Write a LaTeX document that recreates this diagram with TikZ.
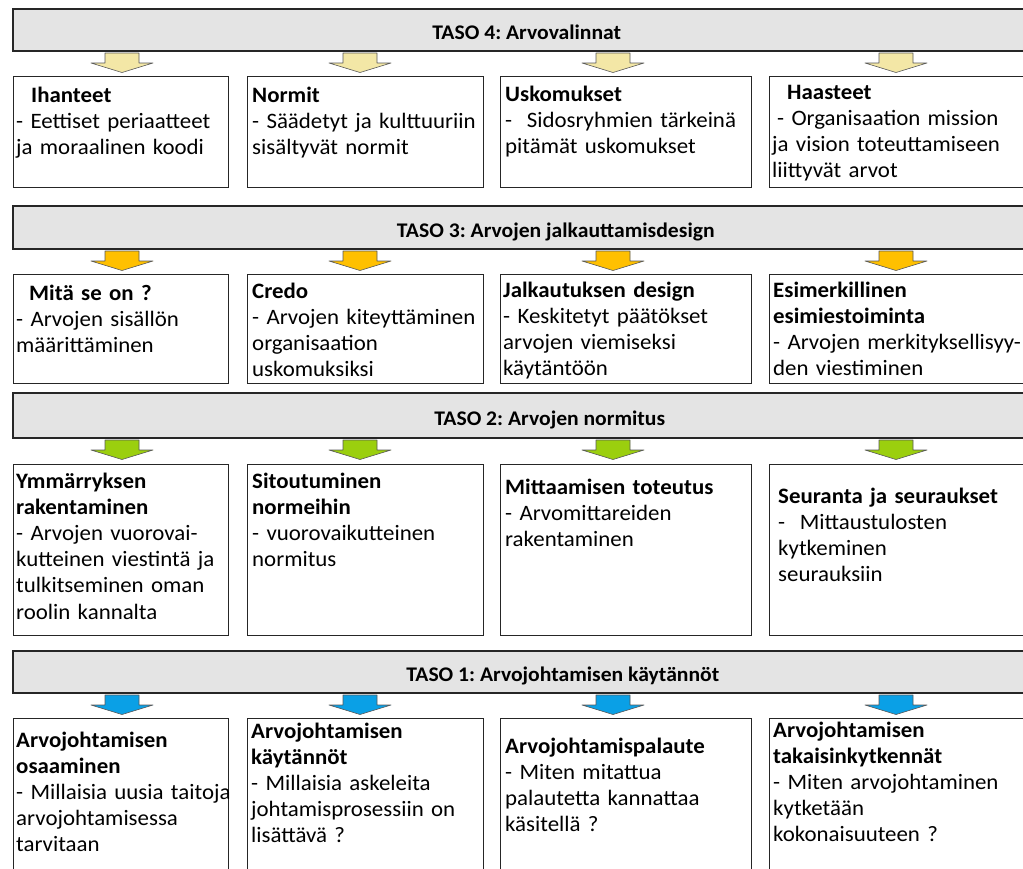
\documentclass[tikz,border=0pt]{standalone}
\usepackage{fontspec}
\setmainfont{Carlito}[FakeStretch=1.04]
\usetikzlibrary{positioning}
\definecolor{barfill}{HTML}{E4E4E4}
\definecolor{edge}{HTML}{262626}
\definecolor{pale}{HTML}{F3E7A6}
\definecolor{gold}{HTML}{FFC000}
\definecolor{lime}{HTML}{9BCF0E}
\definecolor{sky}{HTML}{0AA0E6}
\frenchspacing

\begin{document}
\begin{tikzpicture}[
  x=1pt, y=-1pt,
  level/.style={draw=edge, fill=barfill, line width=1.6pt, anchor=north west,
    inner sep=0pt, text height=20pt, text depth=0pt,
    font=\fontsize{20.8}{24}\selectfont\bfseries},
  cell/.style={draw=edge, fill=white, line width=1.3pt, anchor=north west,
    inner sep=0pt},
  txt/.style={inner sep=0pt, text width=320pt, align=left,
    font=\fontsize{22}{26.2}\selectfont},
  blockarr/.pic={\path[draw=black!65, line width=0.6pt, fill=#1, line join=round]
    (-17,-10) -- (17,-10) -- (17,0) -- (31,0) -- (0,9.5) -- (-31,0) -- (-17,0) -- cycle;},
]
  \useasboundingbox (0,0) rectangle (1023,868);
  \clip (0,0) rectangle (1023,868);

  % level bars
  \node[level, minimum width=1028, minimum height=42] (t4) at (12,8)   {TASO 4: Arvovalinnat};
  \node[level, minimum width=1086, minimum height=43] (t3) at (12,205) {TASO 3: Arvojen jalkauttamisdesign};
  \node[level, minimum width=1074, minimum height=45] (t2) at (12,392) {TASO 2: Arvojen normitus};
  \node[level, minimum width=1100, minimum height=42] (t1) at (12,650) {TASO 1: Arvojohtamisen käytännöt};

  % block arrows
  \foreach \row/\y/\c in {4/63/pale, 3/261/gold, 2/450/lime, 1/705/sky}
    \foreach \x [count=\i] in {122,360,613,896}
      \pic (a\row\i) at (\x,\y) {blockarr=\c};

  % taso 4
  \node[cell, minimum width=215, minimum height=111] (b41) at (13,76)  {};
  \node[cell, minimum width=236, minimum height=111] (b42) at (247,76) {};
  \node[cell, minimum width=251, minimum height=111] (b43) at (500,76) {};
  \node[cell, minimum width=270, minimum height=111] (b44) at (769,76) {};
  \node[txt, below right=26pt and 3pt of b41.north west, anchor=base west] (l41)
    {\hspace*{15pt}\textbf{Ihanteet}\\- Eettiset periaatteet\\ja moraalinen koodi};
  \node[txt, below right=26pt and 5pt of b42.north west, anchor=base west] (l42)
    {\textbf{Normit}\\- Säädetyt ja kulttuuriin\\sisältyvät normit};
  \node[txt, below right=25pt and 5pt of b43.north west, anchor=base west] (l43)
    {\textbf{Uskomukset}\\-\ \ Sidosryhmien tärkeinä\\pitämät uskomukset};
  \node[txt, below right=23pt and 3pt of b44.north west, anchor=base west] (l44)
    {\hspace*{15pt}\textbf{Haasteet}\\\hspace*{5pt}- Organisaation mission\\ja vision toteuttamiseen\\liittyvät arvot};

  % taso 3
  \node[cell, minimum width=215, minimum height=109] (b31) at (13,274)  {};
  \node[cell, minimum width=236, minimum height=109] (b32) at (247,274) {};
  \node[cell, minimum width=251, minimum height=109] (b33) at (500,274) {};
  \node[cell, minimum width=270, minimum height=109] (b34) at (769,274) {};
  \node[txt, below right=26pt and 3pt of b31.north west, anchor=base west] (l31)
    {\hspace*{13pt}\textbf{Mitä se on ?}\\- Arvojen sisällön\\määrittäminen};
  \node[txt, below right=24pt and 5pt of b32.north west, anchor=base west] (l32)
    {\textbf{Credo}\\- Arvojen kiteyttäminen\\organisaation\\uskomuksiksi};
  \node[txt, below right=23pt and 3pt of b33.north west, anchor=base west] (l33)
    {\textbf{Jalkautuksen design}\\- Keskitetyt päätökset\\arvojen viemiseksi\\käytäntöön};
  \node[txt, below right=23pt and 4pt of b34.north west, anchor=base west] (l34)
    {\textbf{Esimerkillinen}\\\textbf{esimiestoiminta}\\- Arvojen merkityksellisyy-\\den viestiminen};

  % taso 2
  \node[cell, minimum width=215, minimum height=171] (b21) at (13,464)  {};
  \node[cell, minimum width=236, minimum height=171] (b22) at (247,464) {};
  \node[cell, minimum width=251, minimum height=171] (b23) at (500,464) {};
  \node[cell, minimum width=270, minimum height=171] (b24) at (769,464) {};
  \node[txt, below right=24pt and 3pt of b21.north west, anchor=base west] (l21)
    {\textbf{Ymmärryksen}\\\textbf{rakentaminen}\\- Arvojen vuorovai-\\kutteinen viestintä ja\\tulkitseminen oman\\roolin kannalta};
  \node[txt, below right=24pt and 5pt of b22.north west, anchor=base west] (l22)
    {\textbf{Sitoutuminen}\\\textbf{normeihin}\\- vuorovaikutteinen\\normitus};
  \node[txt, below right=30pt and 5pt of b23.north west, anchor=base west] (l23)
    {\textbf{Mittaamisen toteutus}\\- Arvomittareiden\\rakentaminen};
  \node[txt, below right=39pt and 9pt of b24.north west, anchor=base west] (l24)
    {\textbf{Seuranta ja seuraukset}\\-\ \ Mittaustulosten\\kytkeminen\\seurauksiin};

  % taso 1
  \node[cell, minimum width=215, minimum height=170] (b11) at (13,718)  {};
  \node[cell, minimum width=236, minimum height=170] (b12) at (247,718) {};
  \node[cell, minimum width=251, minimum height=170] (b13) at (500,718) {};
  \node[cell, minimum width=270, minimum height=170] (b14) at (769,718) {};
  \node[txt, below right=29pt and 3pt of b11.north west, anchor=base west] (l11)
    {\textbf{Arvojohtamisen}\\\textbf{osaaminen}\\- Millaisia uusia taitoja\\arvojohtamisessa\\tarvitaan};
  \node[txt, below right=20pt and 4pt of b12.north west, anchor=base west] (l12)
    {\textbf{Arvojohtamisen}\\\textbf{käytännöt}\\- Millaisia askeleita\\johtamisprosessiin on\\lisättävä ?};
  \node[txt, below right=35pt and 5pt of b13.north west, anchor=base west] (l13)
    {\textbf{Arvojohtamispalaute}\\- Miten mitattua\\palautetta kannattaa\\käsitellä ?};
  \node[txt, below right=19pt and 4pt of b14.north west, anchor=base west] (l14)
    {\textbf{Arvojohtamisen}\\\textbf{takaisinkytkennät}\\- Miten arvojohtaminen\\kytketään\\kokonaisuuteen ?};
\end{tikzpicture}
\end{document}
